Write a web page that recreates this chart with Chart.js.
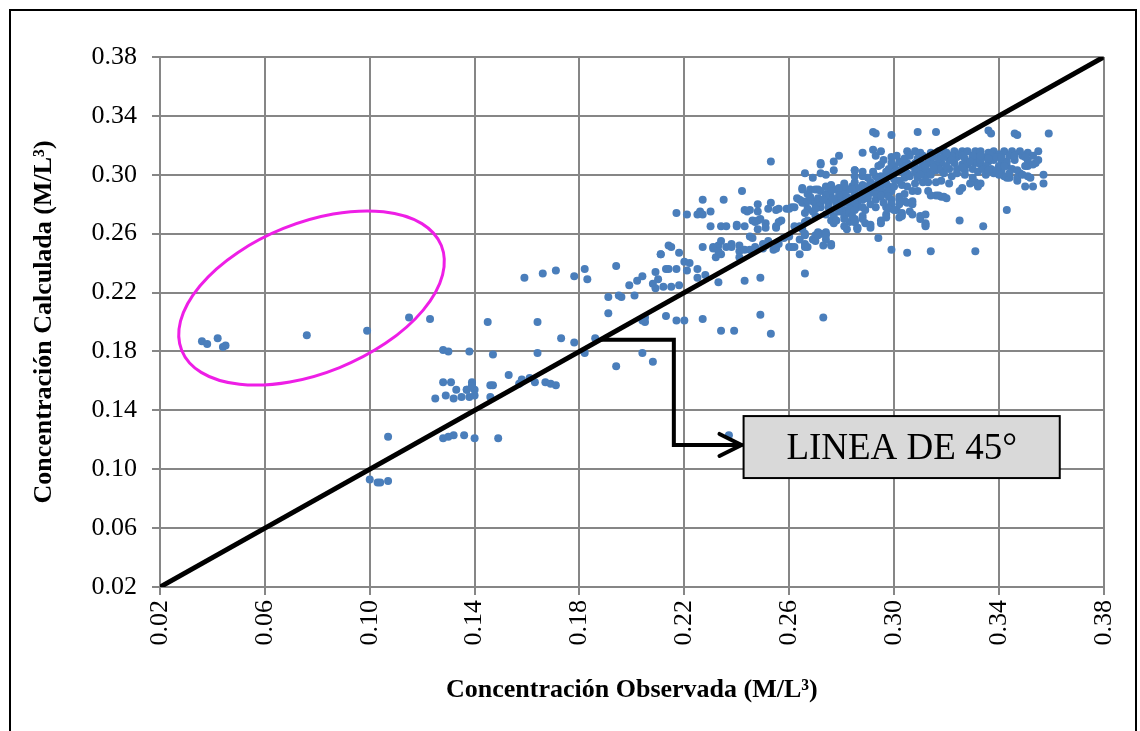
<!DOCTYPE html>
<html>
<head>
<meta charset="utf-8">
<script src="https://cdn.jsdelivr.net/npm/chart.js@4/dist/chart.umd.min.js"></script>
<style>
    body { margin: 0; background: #fff; }
</style>
</head>
<body>
<canvas id="scatterCanvas" width="1140" height="731"></canvas>
<script>
// [observada, calculada] pairs, grouped by zone
const circledPoints = [
    [0.036, 0.187], [0.038, 0.185], [0.042, 0.189], [0.044, 0.183], [0.045, 0.184],
    [0.076, 0.191], [0.099, 0.194]
];

const lowPoints = [
    [0.115, 0.203], [0.123, 0.202], [0.128, 0.181], [0.130, 0.180], [0.138, 0.180],
    [0.128, 0.159], [0.131, 0.159], [0.133, 0.154], [0.125, 0.148], [0.129, 0.150],
    [0.132, 0.148], [0.135, 0.149], [0.137, 0.154], [0.107, 0.122], [0.128, 0.121],
    [0.130, 0.122], [0.132, 0.123], [0.136, 0.123], [0.100, 0.093], [0.103, 0.091],
    [0.104, 0.091], [0.107, 0.092], [0.145, 0.200], [0.164, 0.200], [0.173, 0.189],
    [0.178, 0.186], [0.186, 0.189], [0.182, 0.179], [0.147, 0.178], [0.164, 0.179],
    [0.153, 0.164], [0.157, 0.158], [0.158, 0.161], [0.161, 0.162], [0.163, 0.159],
    [0.167, 0.159], [0.169, 0.158], [0.171, 0.157], [0.139, 0.159], [0.139, 0.157],
    [0.137, 0.154], [0.140, 0.154], [0.138, 0.149], [0.140, 0.150], [0.139, 0.156],
    [0.146, 0.157], [0.147, 0.157], [0.146, 0.149], [0.140, 0.121], [0.149, 0.121],
    [0.159, 0.230], [0.166, 0.233], [0.171, 0.235], [0.178, 0.231], [0.182, 0.236],
    [0.183, 0.229]
];

const midPoints = [
    [0.194, 0.238], [0.191, 0.217], [0.195, 0.218], [0.196, 0.217], [0.201, 0.218],
    [0.191, 0.206], [0.199, 0.225], [0.202, 0.228], [0.204, 0.231], [0.209, 0.234],
    [0.210, 0.229], [0.208, 0.226], [0.209, 0.223], [0.212, 0.224], [0.215, 0.224],
    [0.218, 0.225], [0.213, 0.236], [0.214, 0.236], [0.217, 0.236], [0.221, 0.235],
    [0.225, 0.236], [0.228, 0.232], [0.225, 0.230], [0.220, 0.241], [0.222, 0.240],
    [0.233, 0.227], [0.211, 0.246], [0.205, 0.203], [0.205, 0.200], [0.204, 0.201],
    [0.213, 0.204], [0.217, 0.201], [0.220, 0.201], [0.227, 0.202], [0.234, 0.194],
    [0.239, 0.194], [0.194, 0.170], [0.204, 0.179], [0.208, 0.173], [0.237, 0.123],
    [0.253, 0.309], [0.242, 0.289], [0.227, 0.283], [0.235, 0.283], [0.217, 0.274],
    [0.221, 0.273], [0.225, 0.273], [0.226, 0.275], [0.227, 0.273], [0.230, 0.275],
    [0.230, 0.265], [0.234, 0.265], [0.236, 0.265], [0.240, 0.265], [0.243, 0.265],
    [0.243, 0.276], [0.245, 0.276], [0.248, 0.280], [0.252, 0.277], [0.253, 0.281],
    [0.256, 0.277], [0.259, 0.277], [0.261, 0.278], [0.263, 0.284], [0.265, 0.282],
    [0.267, 0.277], [0.270, 0.281], [0.248, 0.269], [0.249, 0.270], [0.251, 0.267],
    [0.246, 0.269], [0.248, 0.263], [0.245, 0.258], [0.255, 0.265], [0.257, 0.269],
    [0.227, 0.251], [0.231, 0.251], [0.233, 0.252], [0.234, 0.255], [0.236, 0.251],
    [0.238, 0.253], [0.241, 0.252], [0.241, 0.248], [0.243, 0.249], [0.232, 0.244],
    [0.234, 0.246], [0.241, 0.244], [0.246, 0.257], [0.250, 0.250], [0.251, 0.252],
    [0.254, 0.249], [0.214, 0.252], [0.215, 0.251], [0.218, 0.247], [0.211, 0.246],
    [0.243, 0.228], [0.249, 0.230], [0.266, 0.233], [0.249, 0.205], [0.253, 0.192],
    [0.273, 0.203], [0.264, 0.246], [0.260, 0.251], [0.261, 0.251], [0.266, 0.253],
    [0.269, 0.256], [0.274, 0.256], [0.276, 0.253], [0.271, 0.261], [0.272, 0.260],
    [0.274, 0.261], [0.270, 0.259], [0.266, 0.260], [0.264, 0.265], [0.262, 0.265],
    [0.260, 0.258], [0.244, 0.275], [0.248, 0.275], [0.255, 0.276], [0.260, 0.277],
    [0.262, 0.278], [0.240, 0.266], [0.247, 0.268], [0.251, 0.264], [0.255, 0.264],
    [0.256, 0.268], [0.266, 0.268], [0.267, 0.269], [0.270, 0.272], [0.231, 0.250],
    [0.233, 0.248], [0.238, 0.251], [0.245, 0.249], [0.247, 0.251], [0.250, 0.253],
    [0.252, 0.255], [0.255, 0.250], [0.256, 0.253], [0.258, 0.257], [0.262, 0.251],
    [0.264, 0.256], [0.276, 0.252]
];

const upperPoints = [
    [0.266, 0.301], [0.269, 0.298], [0.272, 0.307], [0.277, 0.309], [0.279, 0.313],
    [0.272, 0.301], [0.274, 0.300], [0.277, 0.303], [0.272, 0.308], [0.265, 0.291],
    [0.268, 0.290], [0.271, 0.290], [0.274, 0.287], [0.276, 0.291], [0.279, 0.289],
    [0.281, 0.290], [0.284, 0.292], [0.285, 0.303], [0.264, 0.283], [0.266, 0.281],
    [0.269, 0.282], [0.272, 0.278], [0.275, 0.281], [0.279, 0.283], [0.281, 0.281],
    [0.284, 0.283], [0.276, 0.269], [0.281, 0.272], [0.285, 0.269], [0.276, 0.276],
    [0.281, 0.276], [0.274, 0.292], [0.276, 0.293], [0.281, 0.294], [0.274, 0.286],
    [0.280, 0.283], [0.283, 0.284], [0.285, 0.285], [0.279, 0.280], [0.284, 0.280],
    [0.286, 0.281], [0.277, 0.272], [0.283, 0.268], [0.285, 0.268], [0.286, 0.264],
    [0.274, 0.273], [0.270, 0.255], [0.267, 0.251], [0.265, 0.263], [0.265, 0.290],
    [0.267, 0.287], [0.270, 0.290], [0.272, 0.289], [0.275, 0.287], [0.278, 0.290],
    [0.280, 0.287], [0.283, 0.290], [0.285, 0.287], [0.288, 0.290], [0.290, 0.291],
    [0.293, 0.290], [0.295, 0.292], [0.298, 0.292], [0.265, 0.281], [0.267, 0.282],
    [0.270, 0.280], [0.272, 0.281], [0.275, 0.282], [0.278, 0.280], [0.280, 0.282],
    [0.283, 0.281], [0.285, 0.282], [0.288, 0.283], [0.290, 0.284], [0.293, 0.283],
    [0.295, 0.285], [0.298, 0.287], [0.266, 0.274], [0.269, 0.275], [0.279, 0.278],
    [0.283, 0.277], [0.289, 0.276], [0.293, 0.278], [0.297, 0.278], [0.299, 0.283],
    [0.282, 0.263], [0.281, 0.265], [0.277, 0.267], [0.278, 0.269], [0.274, 0.259],
    [0.271, 0.259], [0.273, 0.252], [0.266, 0.259], [0.266, 0.251], [0.288, 0.315],
    [0.292, 0.317], [0.293, 0.313], [0.295, 0.316], [0.299, 0.312], [0.281, 0.287],
    [0.279, 0.286], [0.276, 0.285], [0.281, 0.292], [0.279, 0.291], [0.276, 0.289],
    [0.274, 0.286], [0.268, 0.285], [0.271, 0.284], [0.273, 0.283], [0.277, 0.283],
    [0.282, 0.285], [0.287, 0.285], [0.291, 0.288], [0.294, 0.289], [0.296, 0.288],
    [0.299, 0.289], [0.270, 0.277], [0.275, 0.278], [0.286, 0.278], [0.291, 0.280],
    [0.296, 0.281], [0.283, 0.274], [0.279, 0.275]
];

const densePoints = [
    [0.292, 0.329], [0.293, 0.328], [0.299, 0.327], [0.309, 0.329], [0.316, 0.329],
    [0.336, 0.330], [0.337, 0.328], [0.346, 0.328], [0.347, 0.327], [0.359, 0.328],
    [0.305, 0.316], [0.308, 0.316], [0.310, 0.315], [0.314, 0.315], [0.317, 0.316],
    [0.319, 0.316], [0.323, 0.316], [0.326, 0.316], [0.328, 0.316], [0.331, 0.316],
    [0.333, 0.316], [0.324, 0.312], [0.327, 0.311], [0.330, 0.310], [0.332, 0.311],
    [0.335, 0.312], [0.321, 0.310], [0.323, 0.308], [0.326, 0.307], [0.328, 0.307],
    [0.331, 0.308], [0.333, 0.307], [0.318, 0.308], [0.316, 0.307], [0.313, 0.308],
    [0.311, 0.307], [0.308, 0.308], [0.305, 0.308], [0.303, 0.307], [0.300, 0.306],
    [0.298, 0.304], [0.295, 0.307], [0.294, 0.306], [0.321, 0.304], [0.318, 0.303],
    [0.316, 0.303], [0.313, 0.302], [0.311, 0.302], [0.308, 0.302], [0.305, 0.301],
    [0.303, 0.302], [0.300, 0.301], [0.298, 0.300], [0.295, 0.299], [0.293, 0.299],
    [0.290, 0.298], [0.288, 0.299], [0.285, 0.299], [0.288, 0.302], [0.285, 0.303],
    [0.285, 0.295], [0.288, 0.293], [0.290, 0.292], [0.293, 0.293], [0.295, 0.291],
    [0.298, 0.290], [0.300, 0.292], [0.303, 0.293], [0.305, 0.292], [0.308, 0.294],
    [0.311, 0.295], [0.313, 0.295], [0.316, 0.295], [0.318, 0.296], [0.321, 0.294],
    [0.293, 0.287], [0.290, 0.286], [0.288, 0.287], [0.295, 0.286], [0.298, 0.285],
    [0.302, 0.285], [0.304, 0.287], [0.307, 0.289], [0.309, 0.289], [0.313, 0.289],
    [0.316, 0.286], [0.318, 0.285], [0.320, 0.284], [0.307, 0.282], [0.304, 0.282],
    [0.302, 0.283], [0.299, 0.280], [0.301, 0.276], [0.303, 0.274], [0.306, 0.275],
    [0.310, 0.272], [0.312, 0.266], [0.312, 0.273], [0.288, 0.278], [0.285, 0.276],
    [0.284, 0.272], [0.288, 0.272], [0.289, 0.267], [0.286, 0.264], [0.285, 0.268],
    [0.291, 0.266], [0.295, 0.269], [0.297, 0.273], [0.298, 0.277], [0.294, 0.257],
    [0.299, 0.249], [0.305, 0.247], [0.314, 0.248], [0.331, 0.248], [0.312, 0.267],
    [0.312, 0.265], [0.325, 0.269], [0.334, 0.265], [0.343, 0.276], [0.326, 0.291],
    [0.325, 0.289], [0.329, 0.294], [0.332, 0.292], [0.333, 0.294], [0.331, 0.295],
    [0.350, 0.292], [0.353, 0.292], [0.357, 0.294], [0.357, 0.300], [0.355, 0.316],
    [0.351, 0.315], [0.354, 0.308], [0.351, 0.306], [0.348, 0.301], [0.347, 0.296],
    [0.343, 0.298], [0.341, 0.303], [0.343, 0.306], [0.319, 0.285], [0.317, 0.286],
    [0.314, 0.286], [0.302, 0.280], [0.305, 0.281], [0.307, 0.280], [0.310, 0.270],
    [0.302, 0.271], [0.303, 0.272], [0.307, 0.273], [0.300, 0.276], [0.297, 0.271],
    [0.295, 0.267], [0.291, 0.264], [0.288, 0.270], [0.286, 0.263], [0.285, 0.270],
    [0.281, 0.270], [0.336, 0.315], [0.338, 0.316], [0.342, 0.316], [0.345, 0.316],
    [0.348, 0.316], [0.333, 0.310], [0.336, 0.309], [0.338, 0.310], [0.341, 0.310],
    [0.343, 0.309], [0.346, 0.310], [0.349, 0.313], [0.351, 0.310], [0.335, 0.306],
    [0.337, 0.304], [0.340, 0.306], [0.342, 0.306], [0.345, 0.304], [0.347, 0.303],
    [0.350, 0.306], [0.353, 0.307], [0.338, 0.301], [0.342, 0.299], [0.344, 0.298],
    [0.347, 0.298], [0.349, 0.300], [0.351, 0.299], [0.352, 0.298], [0.332, 0.293],
    [0.297, 0.302], [0.299, 0.308], [0.302, 0.309], [0.304, 0.304], [0.307, 0.306],
    [0.309, 0.304], [0.312, 0.306], [0.314, 0.309], [0.317, 0.311], [0.319, 0.312],
    [0.322, 0.313], [0.317, 0.304], [0.319, 0.301], [0.322, 0.299], [0.324, 0.301],
    [0.327, 0.303], [0.330, 0.304], [0.332, 0.302], [0.335, 0.300], [0.324, 0.304],
    [0.327, 0.300], [0.330, 0.298], [0.309, 0.298], [0.312, 0.299], [0.314, 0.300],
    [0.304, 0.298], [0.302, 0.296], [0.297, 0.294], [0.294, 0.296], [0.291, 0.295],
    [0.289, 0.291], [0.286, 0.291], [0.284, 0.290], [0.325, 0.314], [0.330, 0.313],
    [0.337, 0.313], [0.340, 0.314], [0.344, 0.313], [0.339, 0.312], [0.334, 0.304],
    [0.339, 0.303], [0.301, 0.313], [0.304, 0.311], [0.306, 0.313], [0.309, 0.311],
    [0.311, 0.313], [0.315, 0.312], [0.320, 0.315], [0.322, 0.310], [0.326, 0.313],
    [0.329, 0.309], [0.333, 0.313], [0.336, 0.311], [0.341, 0.312], [0.346, 0.313],
    [0.350, 0.312], [0.353, 0.313], [0.355, 0.310], [0.344, 0.301], [0.340, 0.300],
    [0.336, 0.303], [0.326, 0.305], [0.320, 0.306], [0.315, 0.305], [0.310, 0.300],
    [0.306, 0.299], [0.300, 0.297], [0.296, 0.297], [0.292, 0.302], [0.296, 0.310],
    [0.301, 0.303]
];

const lineEnds = [0.02, 0.38];   // 45 degree reference line
const tickValues = [0.02, 0.06, 0.10, 0.14, 0.18, 0.22, 0.26, 0.30, 0.34, 0.38];

const xTitle = "Concentración Observada (M/L³)";
const yTitle = "Concentración Calculada (M/L³)";
const noteText = "LINEA DE 45°";

function toXY(pairs) {
    return pairs.map(p => ({ x: p[0], y: p[1] }));
}

const allPoints = [].concat(circledPoints, lowPoints, midPoints, upperPoints, densePoints);

// frame, ellipse, connector and label box
const notesPlugin = {
    id: "notes",
    beforeDraw(chart) {
        const ctx = chart.ctx;
        ctx.save();
        ctx.fillStyle = "#ffffff";
        ctx.fillRect(0, 0, chart.width, chart.height);
        ctx.strokeStyle = "#000000";
        ctx.lineWidth = 2;
        ctx.strokeRect(10, 10, 1126, 740);
        ctx.restore();
    },
    afterDatasetsDraw(chart) {
        const ctx = chart.ctx;
        const x = chart.scales.x;
        const y = chart.scales.y;
        ctx.save();

        // ellipse around the outliers
        ctx.strokeStyle = "#ee1ee6";
        ctx.lineWidth = 3;
        ctx.beginPath();
        ctx.ellipse(x.getPixelForValue(0.0778), y.getPixelForValue(0.2163), 140, 75, -22 * Math.PI / 180, 0, Math.PI * 2);
        ctx.stroke();

        // elbow connector with open arrow head
        const pts = [[0.188, 0.188], [0.216, 0.188], [0.216, 0.1165], [0.2418, 0.1165]]
            .map(p => [x.getPixelForValue(p[0]), y.getPixelForValue(p[1])]);
        ctx.strokeStyle = "#000000";
        ctx.lineWidth = 4;
        ctx.lineCap = "round";
        ctx.lineJoin = "miter";
        ctx.beginPath();
        ctx.moveTo(pts[0][0], pts[0][1]);
        for (let i = 1; i < pts.length; i++) ctx.lineTo(pts[i][0], pts[i][1]);
        ctx.stroke();
        const tip = pts[3];
        ctx.beginPath();
        ctx.moveTo(tip[0] - 22, tip[1] - 11);
        ctx.lineTo(tip[0], tip[1]);
        ctx.lineTo(tip[0] - 22, tip[1] + 11);
        ctx.stroke();

        // label box
        const bx0 = x.getPixelForValue(0.2426);
        const bx1 = x.getPixelForValue(0.3632);
        const by0 = y.getPixelForValue(0.1361);
        const by1 = y.getPixelForValue(0.094);
        ctx.fillStyle = "#d9d9d9";
        ctx.fillRect(bx0, by0, bx1 - bx0, by1 - by0);
        ctx.lineWidth = 2;
        ctx.strokeRect(bx0, by0, bx1 - bx0, by1 - by0);
        ctx.fillStyle = "#000000";
        ctx.font = "37px 'Liberation Serif'";
        ctx.textAlign = "center";
        ctx.textBaseline = "middle";
        ctx.fillText(noteText, (bx0 + bx1) / 2, (by0 + by1) / 2 + 2);
        ctx.restore();
    }
};

const gridStyle = {
    color: "#868686",
    lineWidth: 2,
    tickLength: 8
};
const borderStyle = { color: "#868686", width: 2 };
const tickFont = { family: "'Liberation Serif'", size: 26 };
const titleFont = { family: "'Liberation Serif'", size: 26, weight: "bold" };

new Chart(document.querySelector("#scatterCanvas"), {
    type: "scatter",
    data: {
        datasets: [
            {
                type: "line",
                data: lineEnds.map(v => ({ x: v, y: v })),
                borderColor: "#000000",
                borderWidth: 5,
                pointRadius: 0,
                fill: false,
                order: 0
            },
            {
                data: toXY(allPoints),
                backgroundColor: "#4a7ebb",
                borderWidth: 0,
                pointRadius: 4,
                order: 1
            }
        ]
    },
    options: {
        responsive: false,
        devicePixelRatio: 1,
        animation: false,
        layout: { padding: { top: 57, right: 34, left: 0, bottom: 0 } },
        plugins: {
            legend: { display: false },
            tooltip: { enabled: false }
        },
        scales: {
            x: {
                type: "linear",
                min: 0.02,
                max: 0.38,
                afterBuildTicks: s => { s.ticks = tickValues.map(v => ({ value: v })); },
                afterFit: s => { s.height = 144; },
                grid: gridStyle,
                border: borderStyle,
                ticks: {
                    color: "#000000",
                    font: tickFont,
                    minRotation: 90,
                    maxRotation: 90,
                    padding: 5,
                    callback: v => v.toFixed(2)
                },
                title: {
                    display: true,
                    text: xTitle,
                    color: "#000000",
                    font: titleFont,
                    padding: { top: 0, bottom: 25 }
                }
            },
            y: {
                type: "linear",
                min: 0.02,
                max: 0.38,
                afterBuildTicks: s => { s.ticks = tickValues.map(v => ({ value: v })); },
                afterFit: s => { s.width = 160; },
                grid: gridStyle,
                border: borderStyle,
                ticks: {
                    color: "#000000",
                    font: tickFont,
                    padding: 15,
                    callback: v => v.toFixed(2)
                },
                title: {
                    display: true,
                    text: yTitle,
                    color: "#000000",
                    font: titleFont,
                    padding: { top: 29, bottom: 0 }
                }
            }
        }
    },
    plugins: [notesPlugin]
});
</script>
</body>
</html>
